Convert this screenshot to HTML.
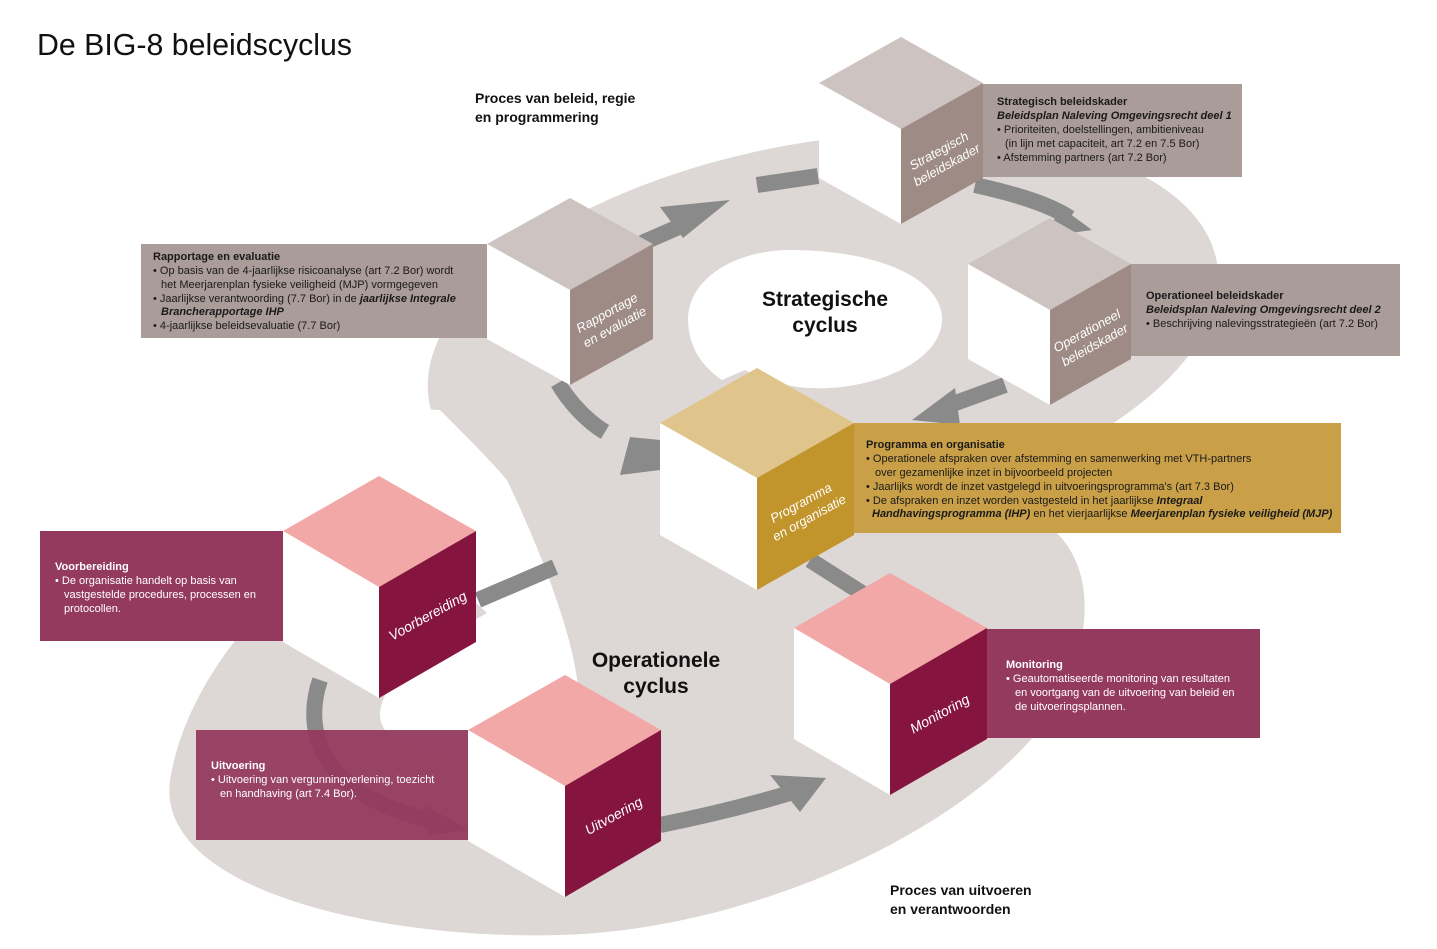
<!DOCTYPE html>
<html><head><meta charset="utf-8"><style>
body{margin:0;background:#fff;overflow:hidden;}
svg{display:block;font-family:"Liberation Sans",sans-serif;}
</style></head><body>
<svg width="1437" height="949" viewBox="0 0 1437 949" xmlns="http://www.w3.org/2000/svg">
<rect width="1437" height="949" fill="#fff"/>
<text x="37" y="55" font-size="31" fill="#111" textLength="315" lengthAdjust="spacingAndGlyphs">De BIG-8 beleidscyclus</text>

<!-- background S -->
<g fill="#ddd7d6">
<ellipse cx="823" cy="332" rx="400" ry="190" transform="rotate(-10 823 332)"/>
<path d="M380,515 C300,560 190,660 170,780 C155,890 380,940 560,935 C760,930 990,820 1060,700 C1100,620 1090,550 1040,520 L700,500 Z"/>
<polygon points="470,430 720,400 1000,470 1050,530 900,640 600,650 520,560"/>
</g>
<g fill="#fff">
<path d="M688,318 C690,275 740,250 790,250 C880,250 945,280 942,322 C938,362 880,385 830,388 C790,390 765,380 745,370 L722,380 C700,365 688,345 688,318 Z"/>
<path d="M250,430 L380,515 L487,613 C430,645 382,680 380,713 C378,748 440,762 510,757 C565,750 582,720 578,688 C574,640 545,560 507,480 C490,460 465,435 440,410 L250,400 Z"/>
</g>

<!-- arrows -->
<g fill="none" stroke="#8a8a8a" stroke-width="16">
<path d="M642,243 L690,222"/>
<path d="M757,185 L818,176"/>
<path d="M975,185 C1020,195 1050,205 1070,218"/>
<path d="M1005,385 L950,405"/>
<path d="M558,383 C568,400 585,420 605,432"/>
<path d="M478,600 L555,567"/>
<path d="M810,560 L865,595"/>
<path d="M320,680 C300,740 330,800 440,822"/>
<path d="M660,825 C710,815 750,805 790,793"/>
</g>
<g fill="#8a8a8a">
<polygon points="660,207 730,200 683,238"/>
<polygon points="1058,205 1092,230 1050,236"/>
<polygon points="955,388 912,420 960,425"/>
<polygon points="630,437 660,440 660,470 620,475"/>
<polygon points="425,805 468,830 428,835"/>
<polygon points="770,775 826,778 800,812"/>
</g>

<!-- cubes -->
<g>
<polygon points="901,37 983,83 901,129 819,83" fill="#cdc3c0"/>
<polygon points="819,83 901,129 901,224 819,178" fill="#fff"/>
<polygon points="901,129 983,83 983,178 901,224" fill="#9e8b86"/>
</g>
<g>
<polygon points="570,198 653,244 570,290 487,244" fill="#cdc3c0"/>
<polygon points="487,244 570,290 570,385 487,339" fill="#fff"/>
<polygon points="570,290 653,244 653,339 570,385" fill="#9e8b86"/>
</g>
<g>
<polygon points="1050,218 1131,264 1050,310 968,264" fill="#cdc3c0"/>
<polygon points="968,264 1050,310 1050,405 968,359" fill="#fff"/>
<polygon points="1050,310 1131,264 1131,359 1050,405" fill="#9e8b86"/>
</g>
<g>
<polygon points="757,368 854,423 757,478 660,423" fill="#dfc48c"/>
<polygon points="660,423 757,478 757,590 660,535" fill="#fff"/>
<polygon points="757,478 854,423 854,535 757,590" fill="#c2952c"/>
</g>
<g>
<polygon points="379,476 476,531 379,587 283,531" fill="#f2a8a7"/>
<polygon points="283,531 379,587 379,698 283,642" fill="#fff"/>
<polygon points="379,587 476,531 476,642 379,698" fill="#85143f"/>
</g>
<g>
<polygon points="565,675 661,730 565,786 468,730" fill="#f2a8a7"/>
<polygon points="468,730 565,786 565,897 468,841" fill="#fff"/>
<polygon points="565,786 661,730 661,841 565,897" fill="#85143f"/>
</g>
<g>
<polygon points="890,573 987,628 890,684 794,628" fill="#f2a8a7"/>
<polygon points="794,628 890,684 890,795 794,739" fill="#fff"/>
<polygon points="890,684 987,628 987,739 890,795" fill="#85143f"/>
</g>

<!-- face labels -->
<g fill="#fff" font-style="italic" font-size="13" text-anchor="middle">
<text transform="translate(944,160) rotate(-29)"><tspan x="0" y="-6">Strategisch</tspan><tspan x="0" y="10">beleidskader</tspan></text>
<text transform="translate(612,322) rotate(-29)"><tspan x="0" y="-6">Rapportage</tspan><tspan x="0" y="10">en evaluatie</tspan></text>
<text transform="translate(1092,340) rotate(-29)"><tspan x="0" y="-6">Operationeel</tspan><tspan x="0" y="10">beleidskader</tspan></text>
<text transform="translate(806,512) rotate(-29)"><tspan x="0" y="-6">Programma</tspan><tspan x="0" y="11">en organisatie</tspan></text>
<text transform="translate(430,620) rotate(-29)" font-size="14">Voorbereiding</text>
<text transform="translate(616,820) rotate(-29)" font-size="14">Uitvoering</text>
<text transform="translate(942,718) rotate(-29)" font-size="14">Monitoring</text>
</g>

<!-- info boxes -->
<rect x="983" y="84" width="259" height="93" fill="#aa9c98"/>
<rect x="141" y="244" width="346" height="94" fill="#aa9c98"/>
<rect x="1131" y="264" width="269" height="92" fill="#aa9c98"/>
<rect x="854" y="423" width="487" height="110" fill="#c9a047"/>
<rect x="40" y="531" width="243" height="110" fill="#943a5e"/>
<rect x="196" y="730" width="272" height="110" fill="#943a5e" opacity="0.95"/>
<rect x="987" y="629" width="273" height="109" fill="#943a5e"/>

<g font-size="11" fill="#1a1a1a">
<text x="997" y="105" font-weight="bold">Strategisch beleidskader</text>
<text x="997" y="119" font-weight="bold" font-style="italic">Beleidsplan Naleving Omgevingsrecht deel 1</text>
<text x="997" y="133">• Prioriteiten, doelstellingen, ambitieniveau</text>
<text x="1005" y="147">(in lijn met capaciteit, art 7.2 en 7.5 Bor)</text>
<text x="997" y="161">• Afstemming partners (art 7.2 Bor)</text>

<text x="153" y="260" font-weight="bold">Rapportage en evaluatie</text>
<text x="153" y="274">• Op basis van de 4-jaarlijkse risicoanalyse (art 7.2 Bor) wordt</text>
<text x="161" y="288">het Meerjarenplan fysieke veiligheid (MJP) vormgegeven</text>
<text x="153" y="302">• Jaarlijkse verantwoording (7.7 Bor) in de <tspan font-weight="bold" font-style="italic">jaarlijkse Integrale</tspan></text>
<text x="161" y="315" font-weight="bold" font-style="italic">Brancherapportage IHP</text>
<text x="153" y="329">• 4-jaarlijkse beleidsevaluatie (7.7 Bor)</text>

<text x="1146" y="299" font-weight="bold">Operationeel beleidskader</text>
<text x="1146" y="313" font-weight="bold" font-style="italic">Beleidsplan Naleving Omgevingsrecht deel 2</text>
<text x="1146" y="327">• Beschrijving nalevingsstrategieën (art 7.2 Bor)</text>

<text x="866" y="448" font-weight="bold">Programma en organisatie</text>
<text x="866" y="462">• Operationele afspraken over afstemming en samenwerking met VTH-partners</text>
<text x="875" y="476">over gezamenlijke inzet in bijvoorbeeld projecten</text>
<text x="866" y="490">• Jaarlijks wordt de inzet vastgelegd in uitvoeringsprogramma's (art 7.3 Bor)</text>
<text x="866" y="504">• De afspraken en inzet worden vastgesteld in het jaarlijkse <tspan font-weight="bold" font-style="italic">Integraal</tspan></text>
<text x="872" y="517"><tspan font-weight="bold" font-style="italic">Handhavingsprogramma (IHP)</tspan> en het vierjaarlijkse <tspan font-weight="bold" font-style="italic">Meerjarenplan fysieke veiligheid (MJP)</tspan></text>
</g>
<g font-size="11" fill="#fff">
<text x="55" y="570" font-weight="bold">Voorbereiding</text>
<text x="55" y="584">• De organisatie handelt op basis van</text>
<text x="64" y="598">vastgestelde procedures, processen en</text>
<text x="64" y="612">protocollen.</text>

<text x="211" y="769" font-weight="bold">Uitvoering</text>
<text x="211" y="783">• Uitvoering van vergunningverlening, toezicht</text>
<text x="220" y="797">en handhaving (art 7.4 Bor).</text>

<text x="1006" y="668" font-weight="bold">Monitoring</text>
<text x="1006" y="682">• Geautomatiseerde monitoring van resultaten</text>
<text x="1015" y="696">en voortgang van de uitvoering van beleid en</text>
<text x="1015" y="710">de uitvoeringsplannen.</text>
</g>

<g font-size="14" font-weight="bold" fill="#111">
<text x="475" y="103">Proces van beleid, regie</text>
<text x="475" y="122">en programmering</text>
<text x="890" y="895">Proces van uitvoeren</text>
<text x="890" y="914">en verantwoorden</text>
</g>
<g font-size="21" font-weight="bold" fill="#111" text-anchor="middle">
<text x="825" y="306">Strategische</text>
<text x="825" y="332">cyclus</text>
<text x="656" y="667">Operationele</text>
<text x="656" y="693">cyclus</text>
</g>
</svg>
</body></html>
